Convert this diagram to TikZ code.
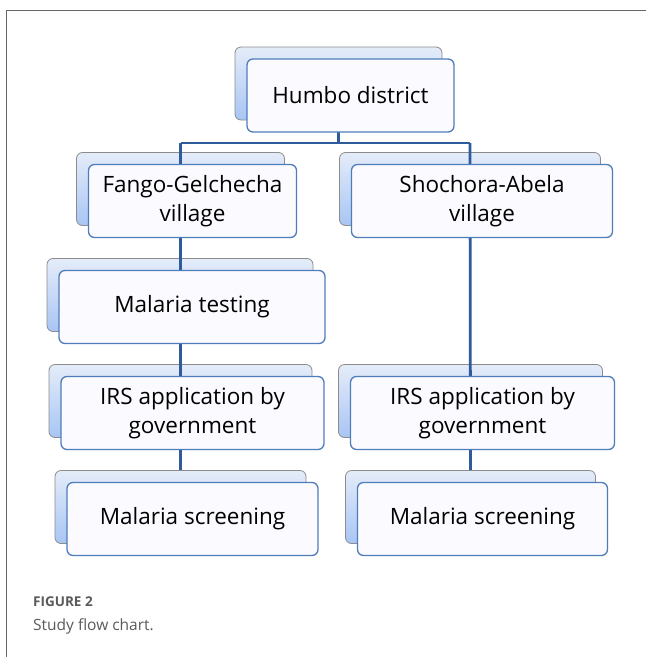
\documentclass[tikz,border=0pt]{standalone}
\usepackage{fontspec}
\setmainfont{Open Sans}
\definecolor{linkblue}{HTML}{2F5B9B}
\definecolor{frontline}{HTML}{4F7DBA}
\definecolor{backtop}{HTML}{E4ECF9}
\definecolor{backbot}{HTML}{A8C5F4}
\definecolor{capgray}{HTML}{5A5A5A}
\tikzset{
  backbox/.style={draw=gray!90, line width=0.8pt, rounded corners=6pt,
    top color=backtop, bottom color=backbot,
    minimum height=73pt, inner sep=0pt},
  frontbox/.style={draw=frontline, line width=1.3pt, rounded corners=6pt,
    fill=blue!2!white, minimum height=73pt, inner sep=0pt, align=center,
    font=\fontsize{22.5}{29}\selectfont},
  link/.style={draw=linkblue, line width=2.8pt}
}
\begin{document}
\begin{tikzpicture}[x=1pt, y=-1pt]
  \useasboundingbox (0,0) rectangle (646,657);
  \fill[white] (0,0) rectangle (646,657);
  \draw[gray!80!black, line width=0.8pt] (6,657) -- (6,10) -- (646,10);
  % back plates of all boxes
  \foreach \n/\x/\y/\w in {H/338.5/83.5/207, F1/180.5/189/208, S1/470/189/261,
      F2/180/295/266, F3/180.5/401/263, S2/470.5/401/264,
      F4/180.5/507/251, S3/470.5/507/250}{%
    \node(b\n)[backbox, minimum width=\w pt] at(\x,\y) {};
  }
  % connectors, behind the front boxes
  \coordinate(J) at(338.5,143);
  \draw[link] (bH.center) -- (J);
  \draw[link] (bF1.north |- J) -- (bS1.north |- J);
  \draw[link] (bF1.north |- J) -- (bF4.north);
  \draw[link] (bS1.north |- J) -- (bS3.north);
  % front boxes with the texts
  \foreach \n/\w/\t in {H/207/{Humbo district}, F1/208/{Fango-Gelchecha\\village},
      S1/261/{Shochora-Abela\\village}, F2/266/{Malaria testing},
      F3/263/{IRS application by\\government}, S2/264/{IRS application by\\government},
      F4/251/{Malaria screening}, S3/250/{Malaria screening}}{%
    \node(\n)[frontbox, minimum width=\w pt] at([shift={(12,12)}]b\n.center) {\t};
  }
  % caption
  \node(fig)[anchor=base west, inner sep=0pt, text=capgray, font=\fontsize{13.5}{16}\selectfont\bfseries]
    at(33,606) {FIGURE 2};
  \node(cap)[anchor=base west, inner sep=0pt, text=capgray, font=\fontsize{15.5}{18}\selectfont]
    at(33,630) {Study flow chart.};
\end{tikzpicture}
\end{document}
